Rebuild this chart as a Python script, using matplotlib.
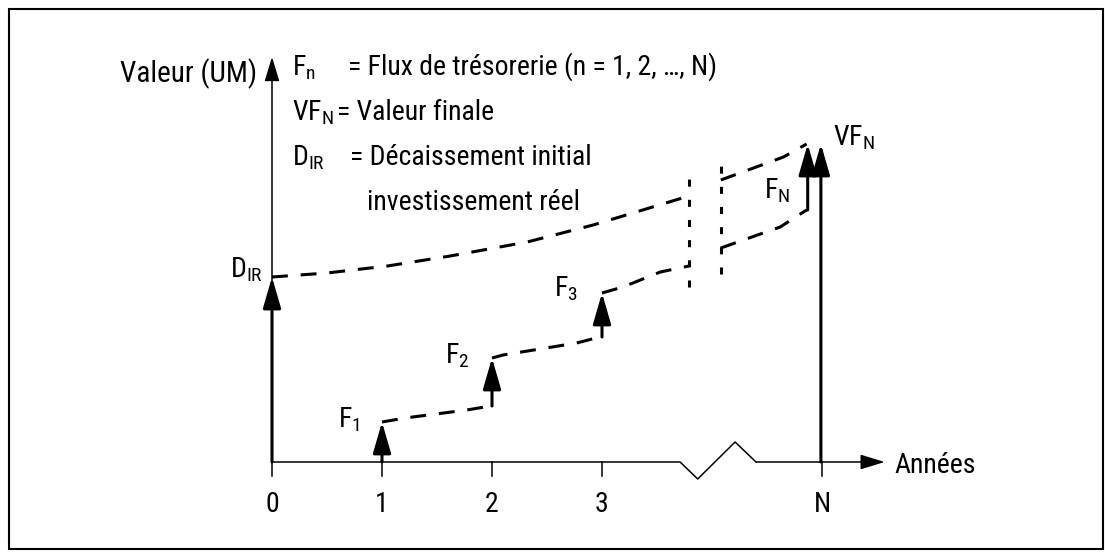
import matplotlib.pyplot as plt
from matplotlib import font_manager

installed = set(f.name for f in font_manager.fontManager.ttflist)
font = 'DejaVu Sans'
for cand in ['Roboto Condensed', 'Liberation Sans Narrow', 'Archivo Narrow', 'PT Sans Narrow',
             'Open Sans Condensed']:
    if cand in installed:
        font = cand
        break
plt.rcParams['font.family'] = [font, 'DejaVu Sans']
plt.rcParams['mathtext.fontset'] = 'custom'
plt.rcParams['mathtext.rm'] = font

# positions des années sur l'axe (N placé après la coupure)
years = [0, 1, 2, 3, 5]
year_labels = ['0', '1', '2', '3', 'N']

# décaissement initial capitalisé (avant / après la coupure)
dir_t1 = [0, 0.5, 1.05, 1.62, 2.32, 2.92, 3.46, 3.79]
dir_v1 = [185, 189, 196, 206, 220, 237, 255, 266]
dir_t2 = [4.08, 4.65, 4.86]
dir_v2 = [282, 305, 318]

# flux de trésorerie : position, base et sommet des flèches
flux_t = [1, 2, 3, 4.87]
flux_base = [0, 56, 125, 252]
flux_top = [40, 104, 169, 318]
flux_labels = [r'F$_\mathrm{1}$', r'F$_\mathrm{2}$', r'F$_\mathrm{3}$', r'F$_\mathrm{N}$']

# flux capitalisés entre deux versements
cap_t = [[1, 1.21, 1.77, 1.99], [2, 2.1, 2.77, 2.98], [3, 3.19, 3.53, 3.79], [4.08, 4.62, 4.86]]
cap_v = [[40, 44, 52, 56], [104, 107, 119, 125], [169, 175, 190, 196], [214, 235, 252]]

# coupure de l'axe du temps
break_t = [3.79, 4.08]
break_lo = [175, 188]
break_hi = [289, 301]
zig_t = [0, 3.71, 3.87, 4.21, 4.4, 5.57]
zig_v = [0, 0, -17, 20, 0, 0]

d_ir = 185
vf_n = 318
vf_t = 4.99
y_top = 405

FS = 20
big = dict(arrowstyle='-|>,head_length=19,head_width=5.5', mutation_scale=1,
           lw=2.2, color='black', shrinkA=0, shrinkB=0)
thin = dict(arrowstyle='-|>,head_length=15,head_width=4.6', mutation_scale=1,
            lw=1.1, color='black', shrinkA=0, shrinkB=0)

fig = plt.figure(figsize=(11.05, 5.58), dpi=100)
ax = fig.add_axes([0, 0, 1, 1])
ax.set_xlim(-272 / 110, 833 / 110)
ax.set_ylim(-96, 462)
ax.axis('off')

fig.patches.append(plt.Rectangle((9 / 1105, 9 / 558), 1094 / 1105, 540 / 558,
                                 transform=fig.transFigure, fill=False, lw=1.5,
                                 edgecolor='black'))

# axes
ax.annotate('', xy=(0, y_top), xytext=(0, 0), arrowprops=thin)
ax.plot(zig_t[:-1], zig_v[:-1], color='black', lw=1.1)
ax.annotate('', xy=(zig_t[-1], 0), xytext=(zig_t[-2], 0), arrowprops=thin)
for t, lab in zip(years, year_labels):
    ax.plot([t, t], [0, -14], color='black', lw=1.1)
    ax.text(t, -43, lab, ha='center', va='center', fontsize=FS)
ax.text(5.66, -11, 'Années', ha='left', va='baseline', fontsize=FS)
ax.text(-0.136, 380, 'Valeur (UM)', ha='right', va='baseline', fontsize=21)

dash = (0, (5.2, 4.2))
ax.plot(dir_t1, dir_v1, color='black', lw=2.2, ls=dash)
ax.plot(dir_t2, dir_v2, color='black', lw=2.2, ls=dash)
for ts, vs in zip(cap_t, cap_v):
    ax.plot(ts, vs, color='black', lw=2.2, ls=dash)
for t, lo, hi in zip(break_t, break_lo, break_hi):
    ax.plot([t, t], [lo, hi], color='black', lw=2.2, ls=(0, (2.3, 4.3)))

ax.annotate('', xy=(0, d_ir), xytext=(0, 0), arrowprops=big)
ax.annotate('', xy=(vf_t, vf_n), xytext=(vf_t, 0), arrowprops=big)
for t, b, top in zip(flux_t, flux_base, flux_top):
    ax.annotate('', xy=(t, top), xytext=(t, b), arrowprops=big)

lab_pos = [(0.8, 35), (1.8, 99), (2.78, 166), (4.71, 264)]
for (x, y), lab in zip(lab_pos, flux_labels):
    ax.text(x, y, lab, ha='right', va='baseline', fontsize=FS)
ax.text(-0.08, 185, r'D$_\mathrm{IR}$', ha='right', va='baseline', fontsize=FS)
ax.text(5.1, 317, r'VF$_\mathrm{N}$', ha='left', va='baseline', fontsize=FS)

# légende
ax.text(0.18, 387, r'F$_\mathrm{n}$', ha='left', va='baseline', fontsize=FS)
ax.text(0.69, 387, '= Flux de trésorerie (n = 1, 2, …, N)', ha='left', va='baseline', fontsize=FS)
ax.text(0.18, 342, r'VF$_\mathrm{N}$', ha='left', va='baseline', fontsize=FS)
ax.text(0.59, 342, '= Valeur finale', ha='left', va='baseline', fontsize=FS)
ax.text(0.18, 297, r'D$_\mathrm{IR}$', ha='left', va='baseline', fontsize=FS)
ax.text(0.71, 297, '= Décaissement initial', ha='left', va='baseline', fontsize=FS)
ax.text(0.86, 252, 'investissement réel', ha='left', va='baseline', fontsize=FS)

fig.savefig('out.png', dpi=100)
